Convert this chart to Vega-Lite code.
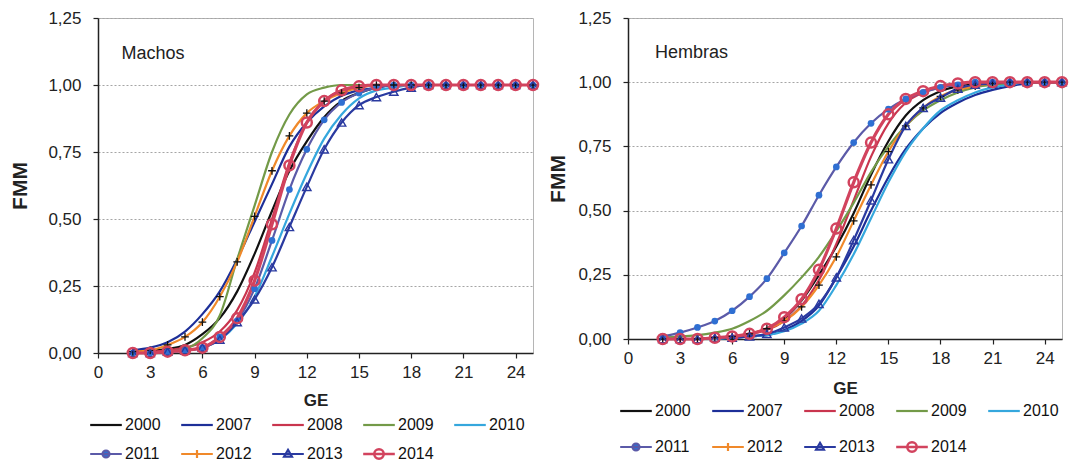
{
  "$schema": "https://vega.github.io/schema/vega-lite/v6.json",
  "padding": {"left": 9, "top": 8, "right": 4, "bottom": 0},
  "spacing": 3,
  "config": {
    "font": "Liberation Sans",
    "view": {"stroke": "#b5b5b5", "strokeWidth": 1},
    "axis": {
      "labelFont": "Liberation Sans", "labelFontSize": 17, "labelColor": "#222",
      "titleFont": "Liberation Sans", "titleFontWeight": "bold", "titleColor": "#222",
      "domainColor": "#222", "domainWidth": 1.5, "tickColor": "#222", "tickWidth": 1.2,
      "labelOverlap": false, "labelFlush": false
    },
    "legend": {"labelFont": "Liberation Sans", "labelFontSize": 16, "labelColor": "#111"}
  },
  "resolve": {"scale": {"color": "independent"}, "legend": {"color": "independent"}},
  "hconcat": [
    {
      "width": 435,
      "height": 335,
      "data": {"values": [
        {"ge": 2, "2000": 0.005, "2007": 0.01, "2008": 0.0, "2009": 0.0, "2010": 0.0, "2011": 0.0, "2012": 0.005, "2013": 0.0, "2014": 0.0},
        {"ge": 3, "2000": 0.01, "2007": 0.02, "2008": 0.005, "2009": 0.0, "2010": 0.0, "2011": 0.0, "2012": 0.01, "2013": 0.0, "2014": 0.0},
        {"ge": 4, "2000": 0.015, "2007": 0.04, "2008": 0.01, "2009": 0.005, "2010": 0.005, "2011": 0.005, "2012": 0.03, "2013": 0.005, "2014": 0.005},
        {"ge": 5, "2000": 0.03, "2007": 0.08, "2008": 0.02, "2009": 0.015, "2010": 0.01, "2011": 0.01, "2012": 0.06, "2013": 0.01, "2014": 0.01},
        {"ge": 6, "2000": 0.07, "2007": 0.145, "2008": 0.04, "2009": 0.055, "2010": 0.02, "2011": 0.02, "2012": 0.115, "2013": 0.02, "2014": 0.02},
        {"ge": 7, "2000": 0.13, "2007": 0.23, "2008": 0.08, "2009": 0.14, "2010": 0.05, "2011": 0.06, "2012": 0.21, "2013": 0.05, "2014": 0.06},
        {"ge": 8, "2000": 0.23, "2007": 0.35, "2008": 0.16, "2009": 0.35, "2010": 0.11, "2011": 0.12, "2012": 0.34, "2013": 0.115, "2014": 0.13},
        {"ge": 9, "2000": 0.37, "2007": 0.49, "2008": 0.30, "2009": 0.55, "2010": 0.21, "2011": 0.24, "2012": 0.51, "2013": 0.20, "2014": 0.27},
        {"ge": 10, "2000": 0.53, "2007": 0.63, "2008": 0.50, "2009": 0.75, "2010": 0.36, "2011": 0.42, "2012": 0.68, "2013": 0.32, "2014": 0.48},
        {"ge": 11, "2000": 0.68, "2007": 0.77, "2008": 0.71, "2009": 0.89, "2010": 0.52, "2011": 0.61, "2012": 0.81, "2013": 0.47, "2014": 0.70},
        {"ge": 12, "2000": 0.79, "2007": 0.86, "2008": 0.86, "2009": 0.965, "2010": 0.67, "2011": 0.76, "2012": 0.895, "2013": 0.62, "2014": 0.86},
        {"ge": 13, "2000": 0.88, "2007": 0.92, "2008": 0.94, "2009": 0.99, "2010": 0.80, "2011": 0.87, "2012": 0.94, "2013": 0.76, "2014": 0.94},
        {"ge": 14, "2000": 0.94, "2007": 0.96, "2008": 0.98, "2009": 1.0, "2010": 0.89, "2011": 0.935, "2012": 0.97, "2013": 0.86, "2014": 0.98},
        {"ge": 15, "2000": 0.97, "2007": 0.98, "2008": 0.99, "2009": 1.0, "2010": 0.95, "2011": 0.97, "2012": 0.99, "2013": 0.925, "2014": 0.995},
        {"ge": 16, "2000": 0.99, "2007": 0.99, "2008": 1.0, "2009": 1.0, "2010": 0.98, "2011": 0.99, "2012": 1.0, "2013": 0.955, "2014": 1.0},
        {"ge": 17, "2000": 1.0, "2007": 1.0, "2008": 1.0, "2009": 1.0, "2010": 0.99, "2011": 1.0, "2012": 1.0, "2013": 0.975, "2014": 1.0},
        {"ge": 18, "2000": 1.0, "2007": 1.0, "2008": 1.0, "2009": 1.0, "2010": 1.0, "2011": 1.0, "2012": 1.0, "2013": 0.99, "2014": 1.0},
        {"ge": 19, "2000": 1.0, "2007": 1.0, "2008": 1.0, "2009": 1.0, "2010": 1.0, "2011": 1.0, "2012": 1.0, "2013": 1.0, "2014": 1.0},
        {"ge": 20, "2000": 1.0, "2007": 1.0, "2008": 1.0, "2009": 1.0, "2010": 1.0, "2011": 1.0, "2012": 1.0, "2013": 1.0, "2014": 1.0},
        {"ge": 21, "2000": 1.0, "2007": 1.0, "2008": 1.0, "2009": 1.0, "2010": 1.0, "2011": 1.0, "2012": 1.0, "2013": 1.0, "2014": 1.0},
        {"ge": 22, "2000": 1.0, "2007": 1.0, "2008": 1.0, "2009": 1.0, "2010": 1.0, "2011": 1.0, "2012": 1.0, "2013": 1.0, "2014": 1.0},
        {"ge": 23, "2000": 1.0, "2007": 1.0, "2008": 1.0, "2009": 1.0, "2010": 1.0, "2011": 1.0, "2012": 1.0, "2013": 1.0, "2014": 1.0},
        {"ge": 24, "2000": 1.0, "2007": 1.0, "2008": 1.0, "2009": 1.0, "2010": 1.0, "2011": 1.0, "2012": 1.0, "2013": 1.0, "2014": 1.0},
        {"ge": 25, "2000": 1.0, "2007": 1.0, "2008": 1.0, "2009": 1.0, "2010": 1.0, "2011": 1.0, "2012": 1.0, "2013": 1.0, "2014": 1.0}
      ]},
      "layer": [
        {
          "transform": [{"fold": ["2000","2007","2008","2009","2010","2011","2012","2013","2014"], "as": ["year", "fmm"]}],
          "mark": {"type": "line", "interpolate": "monotone"},
          "encoding": {
            "x": {"field": "ge", "type": "quantitative", "scale": {"domain": [0, 25], "nice": false},
              "axis": {"title": "GE", "titleFontSize": 17, "titlePadding": 12, "values": [0, 3, 6, 9, 12, 15, 18, 21, 24],
                "format": "d", "grid": false, "tickSize": 5, "labelPadding": 6}},
            "y": {"field": "fmm", "type": "quantitative", "scale": {"domain": [0, 1.25], "nice": false},
              "axis": {"title": "FMM", "titleFontSize": 21, "titlePadding": 17, "values": [0, 0.25, 0.5, 0.75, 1, 1.25],
                "labelExpr": "replace(format(datum.value, '.2f'), '.', ',')", "grid": true, "gridDash": [2, 2], "gridColor": "#a5a5a5",
                "tickSize": 5, "labelPadding": 12}},
            "color": {"field": "year", "type": "nominal",
              "scale": {"domain": ["2000","2007","2008","2009","2010","2011","2012","2013","2014"],
                "range": ["#111111","#1d2f98","#c9354e","#739a48","#35a7dd","#5b5aa8","#f0892a","#2a3aa0","#d2435e"]},
              "legend": {"title": null, "orient": "bottom", "direction": "horizontal", "columns": 5, "columnPadding": 15, "rowPadding": 11,
                "symbolSize": 1000, "labelOffset": 11, "offset": 9,
                "encode": {"symbols": {"update": {
                  "shape": {"signal": "datum.value === '2011' ? 'M-1,0L1,0M0.22,0A0.22,0.22,0,1,1,-0.22,0A0.22,0.22,0,1,1,0.22,0Z' : datum.value === '2012' ? 'M-1,0L1,0M0,-0.25L0,0.25' : datum.value === '2013' ? 'M-1,0L1,0M0,-0.26L0.25,0.17L-0.25,0.17Z' : datum.value === '2014' ? 'M-1,0L1,0M0.3,0A0.3,0.3,0,1,1,-0.3,0A0.3,0.3,0,1,1,0.3,0Z' : 'M-1,0L1,0'"},
                  "fill": {"signal": "datum.value === '2011' ? '#2f6fd2' : 'transparent'"},
                  "strokeWidth": {"signal": "datum.value === '2014' ? 2.5 : 2.2"}
                }}}}},
            "strokeWidth": {"condition": {"test": "datum.year === '2014'", "value": 3.2}, "value": 2.2}
          }
        },
        {
          "transform": [{"fold": ["2011"], "as": ["year", "fmm"]}],
          "mark": {"type": "point", "shape": "circle", "filled": true, "size": 45, "color": "#2f6fd2", "opacity": 1},
          "encoding": {"x": {"field": "ge", "type": "quantitative"}, "y": {"field": "fmm", "type": "quantitative"}}
        },
        {
          "transform": [{"fold": ["2012"], "as": ["year", "fmm"]}],
          "mark": {"type": "point", "shape": "M-1,0L1,0M0,-1L0,1", "filled": false, "size": 60, "color": "#111", "strokeWidth": 1.3, "opacity": 1},
          "encoding": {"x": {"field": "ge", "type": "quantitative"}, "y": {"field": "fmm", "type": "quantitative"}}
        },
        {
          "transform": [{"fold": ["2013"], "as": ["year", "fmm"]}],
          "mark": {"type": "point", "shape": "triangle-up", "filled": false, "size": 70, "color": "#2a3aa0", "strokeWidth": 1.4, "opacity": 1},
          "encoding": {"x": {"field": "ge", "type": "quantitative"}, "y": {"field": "fmm", "type": "quantitative"}}
        },
        {
          "transform": [{"fold": ["2014"], "as": ["year", "fmm"]}],
          "mark": {"type": "point", "shape": "circle", "filled": false, "size": 100, "color": "#d2435e", "strokeWidth": 2.5, "opacity": 1},
          "encoding": {"x": {"field": "ge", "type": "quantitative"}, "y": {"field": "fmm", "type": "quantitative"}}
        },
        {
          "data": {"values": [{"label": "Machos"}]},
          "mark": {"type": "text", "align": "left", "baseline": "middle", "fontSize": 18, "color": "#222", "opacity": 1},
          "encoding": {"x": {"datum": 1.35, "type": "quantitative"}, "y": {"datum": 1.115, "type": "quantitative"}, "text": {"field": "label", "type": "nominal"}}
        }
      ]
    },
    {
      "width": 434,
      "height": 321,
      "data": {"values": [
        {"ge": 2, "2000": 0.0, "2007": 0.0, "2008": 0.0, "2009": 0.005, "2010": 0.0, "2011": 0.01, "2012": 0.0, "2013": 0.0, "2014": 0.0},
        {"ge": 3, "2000": 0.0, "2007": 0.0, "2008": 0.0, "2009": 0.01, "2010": 0.0, "2011": 0.025, "2012": 0.0, "2013": 0.0, "2014": 0.0},
        {"ge": 4, "2000": 0.0, "2007": 0.0, "2008": 0.0, "2009": 0.015, "2010": 0.0, "2011": 0.045, "2012": 0.0, "2013": 0.0, "2014": 0.0},
        {"ge": 5, "2000": 0.005, "2007": 0.0, "2008": 0.005, "2009": 0.025, "2010": 0.0, "2011": 0.07, "2012": 0.005, "2013": 0.005, "2014": 0.005},
        {"ge": 6, "2000": 0.01, "2007": 0.005, "2008": 0.01, "2009": 0.04, "2010": 0.005, "2011": 0.11, "2012": 0.01, "2013": 0.005, "2014": 0.01},
        {"ge": 7, "2000": 0.02, "2007": 0.01, "2008": 0.02, "2009": 0.07, "2010": 0.01, "2011": 0.165, "2012": 0.02, "2013": 0.01, "2014": 0.02},
        {"ge": 8, "2000": 0.04, "2007": 0.015, "2008": 0.035, "2009": 0.11, "2010": 0.015, "2011": 0.235, "2012": 0.04, "2013": 0.02, "2014": 0.04},
        {"ge": 9, "2000": 0.08, "2007": 0.035, "2008": 0.07, "2009": 0.17, "2010": 0.03, "2011": 0.335, "2012": 0.07, "2013": 0.045, "2014": 0.085},
        {"ge": 10, "2000": 0.15, "2007": 0.07, "2008": 0.13, "2009": 0.24, "2010": 0.06, "2011": 0.44, "2012": 0.125, "2013": 0.08, "2014": 0.155},
        {"ge": 11, "2000": 0.25, "2007": 0.13, "2008": 0.23, "2009": 0.32, "2010": 0.11, "2011": 0.56, "2012": 0.21, "2013": 0.137, "2014": 0.27},
        {"ge": 12, "2000": 0.36, "2007": 0.24, "2008": 0.37, "2009": 0.42, "2010": 0.21, "2011": 0.67, "2012": 0.32, "2013": 0.24, "2014": 0.43},
        {"ge": 13, "2000": 0.49, "2007": 0.36, "2008": 0.54, "2009": 0.53, "2010": 0.33, "2011": 0.765, "2012": 0.46, "2013": 0.385, "2014": 0.61},
        {"ge": 14, "2000": 0.64, "2007": 0.50, "2008": 0.71, "2009": 0.65, "2010": 0.47, "2011": 0.84, "2012": 0.60, "2013": 0.54, "2014": 0.765},
        {"ge": 15, "2000": 0.77, "2007": 0.63, "2008": 0.84, "2009": 0.75, "2010": 0.61, "2011": 0.895, "2012": 0.73, "2013": 0.70, "2014": 0.875},
        {"ge": 16, "2000": 0.87, "2007": 0.74, "2008": 0.92, "2009": 0.83, "2010": 0.73, "2011": 0.935, "2012": 0.83, "2013": 0.83, "2014": 0.935},
        {"ge": 17, "2000": 0.93, "2007": 0.82, "2008": 0.96, "2009": 0.89, "2010": 0.82, "2011": 0.96, "2012": 0.90, "2013": 0.90, "2014": 0.965},
        {"ge": 18, "2000": 0.965, "2007": 0.88, "2008": 0.98, "2009": 0.93, "2010": 0.89, "2011": 0.98, "2012": 0.945, "2013": 0.94, "2014": 0.985},
        {"ge": 19, "2000": 0.985, "2007": 0.92, "2008": 0.99, "2009": 0.96, "2010": 0.93, "2011": 0.99, "2012": 0.97, "2013": 0.975, "2014": 0.995},
        {"ge": 20, "2000": 0.995, "2007": 0.95, "2008": 1.0, "2009": 0.98, "2010": 0.96, "2011": 1.0, "2012": 0.985, "2013": 0.99, "2014": 1.0},
        {"ge": 21, "2000": 1.0, "2007": 0.97, "2008": 1.0, "2009": 0.99, "2010": 0.98, "2011": 1.0, "2012": 0.995, "2013": 0.995, "2014": 1.0},
        {"ge": 22, "2000": 1.0, "2007": 0.985, "2008": 1.0, "2009": 0.995, "2010": 0.99, "2011": 1.0, "2012": 1.0, "2013": 1.0, "2014": 1.0},
        {"ge": 23, "2000": 1.0, "2007": 0.995, "2008": 1.0, "2009": 1.0, "2010": 1.0, "2011": 1.0, "2012": 1.0, "2013": 1.0, "2014": 1.0},
        {"ge": 24, "2000": 1.0, "2007": 1.0, "2008": 1.0, "2009": 1.0, "2010": 1.0, "2011": 1.0, "2012": 1.0, "2013": 1.0, "2014": 1.0},
        {"ge": 25, "2000": 1.0, "2007": 1.0, "2008": 1.0, "2009": 1.0, "2010": 1.0, "2011": 1.0, "2012": 1.0, "2013": 1.0, "2014": 1.0}
      ]},
      "layer": [
        {
          "transform": [{"fold": ["2000","2007","2008","2009","2010","2011","2012","2013","2014"], "as": ["year", "fmm"]}],
          "mark": {"type": "line", "interpolate": "monotone"},
          "encoding": {
            "x": {"field": "ge", "type": "quantitative", "scale": {"domain": [0, 25], "nice": false},
              "axis": {"title": "GE", "titleFontSize": 17, "titlePadding": 14, "values": [0, 3, 6, 9, 12, 15, 18, 21, 24],
                "format": "d", "grid": false, "tickSize": 5, "labelPadding": 6}},
            "y": {"field": "fmm", "type": "quantitative", "scale": {"domain": [0, 1.25], "nice": false},
              "axis": {"title": "FMM", "titleFontSize": 21, "titlePadding": 9, "values": [0, 0.25, 0.5, 0.75, 1, 1.25],
                "labelExpr": "replace(format(datum.value, '.2f'), '.', ',')", "grid": true, "gridDash": [2, 2], "gridColor": "#a5a5a5",
                "tickSize": 5, "labelPadding": 12}},
            "color": {"field": "year", "type": "nominal",
              "scale": {"domain": ["2000","2007","2008","2009","2010","2011","2012","2013","2014"],
                "range": ["#111111","#1d2f98","#c9354e","#739a48","#35a7dd","#5b5aa8","#f0892a","#2a3aa0","#d2435e"]},
              "legend": {"title": null, "orient": "bottom", "direction": "horizontal", "columns": 5, "columnPadding": 16, "rowPadding": 18,
                "symbolSize": 1000, "labelOffset": 11, "offset": 7,
                "encode": {"symbols": {"update": {
                  "shape": {"signal": "datum.value === '2011' ? 'M-1,0L1,0M0.22,0A0.22,0.22,0,1,1,-0.22,0A0.22,0.22,0,1,1,0.22,0Z' : datum.value === '2012' ? 'M-1,0L1,0M0,-0.25L0,0.25' : datum.value === '2013' ? 'M-1,0L1,0M0,-0.26L0.25,0.17L-0.25,0.17Z' : datum.value === '2014' ? 'M-1,0L1,0M0.3,0A0.3,0.3,0,1,1,-0.3,0A0.3,0.3,0,1,1,0.3,0Z' : 'M-1,0L1,0'"},
                  "fill": {"signal": "datum.value === '2011' ? '#2f6fd2' : 'transparent'"},
                  "strokeWidth": {"signal": "datum.value === '2014' ? 2.5 : 2.2"}
                }}}}},
            "strokeWidth": {"condition": {"test": "datum.year === '2014'", "value": 3.2}, "value": 2.2}
          }
        },
        {
          "transform": [{"fold": ["2011"], "as": ["year", "fmm"]}],
          "mark": {"type": "point", "shape": "circle", "filled": true, "size": 45, "color": "#2f6fd2", "opacity": 1},
          "encoding": {"x": {"field": "ge", "type": "quantitative"}, "y": {"field": "fmm", "type": "quantitative"}}
        },
        {
          "transform": [{"fold": ["2012"], "as": ["year", "fmm"]}],
          "mark": {"type": "point", "shape": "M-1,0L1,0M0,-1L0,1", "filled": false, "size": 60, "color": "#111", "strokeWidth": 1.3, "opacity": 1},
          "encoding": {"x": {"field": "ge", "type": "quantitative"}, "y": {"field": "fmm", "type": "quantitative"}}
        },
        {
          "transform": [{"fold": ["2013"], "as": ["year", "fmm"]}],
          "mark": {"type": "point", "shape": "triangle-up", "filled": false, "size": 70, "color": "#2a3aa0", "strokeWidth": 1.4, "opacity": 1},
          "encoding": {"x": {"field": "ge", "type": "quantitative"}, "y": {"field": "fmm", "type": "quantitative"}}
        },
        {
          "transform": [{"fold": ["2014"], "as": ["year", "fmm"]}],
          "mark": {"type": "point", "shape": "circle", "filled": false, "size": 100, "color": "#d2435e", "strokeWidth": 2.5, "opacity": 1},
          "encoding": {"x": {"field": "ge", "type": "quantitative"}, "y": {"field": "fmm", "type": "quantitative"}}
        },
        {
          "data": {"values": [{"label": "Hembras"}]},
          "mark": {"type": "text", "align": "left", "baseline": "middle", "fontSize": 18, "color": "#222", "opacity": 1},
          "encoding": {"x": {"datum": 1.55, "type": "quantitative"}, "y": {"datum": 1.115, "type": "quantitative"}, "text": {"field": "label", "type": "nominal"}}
        }
      ]
    }
  ]
}
